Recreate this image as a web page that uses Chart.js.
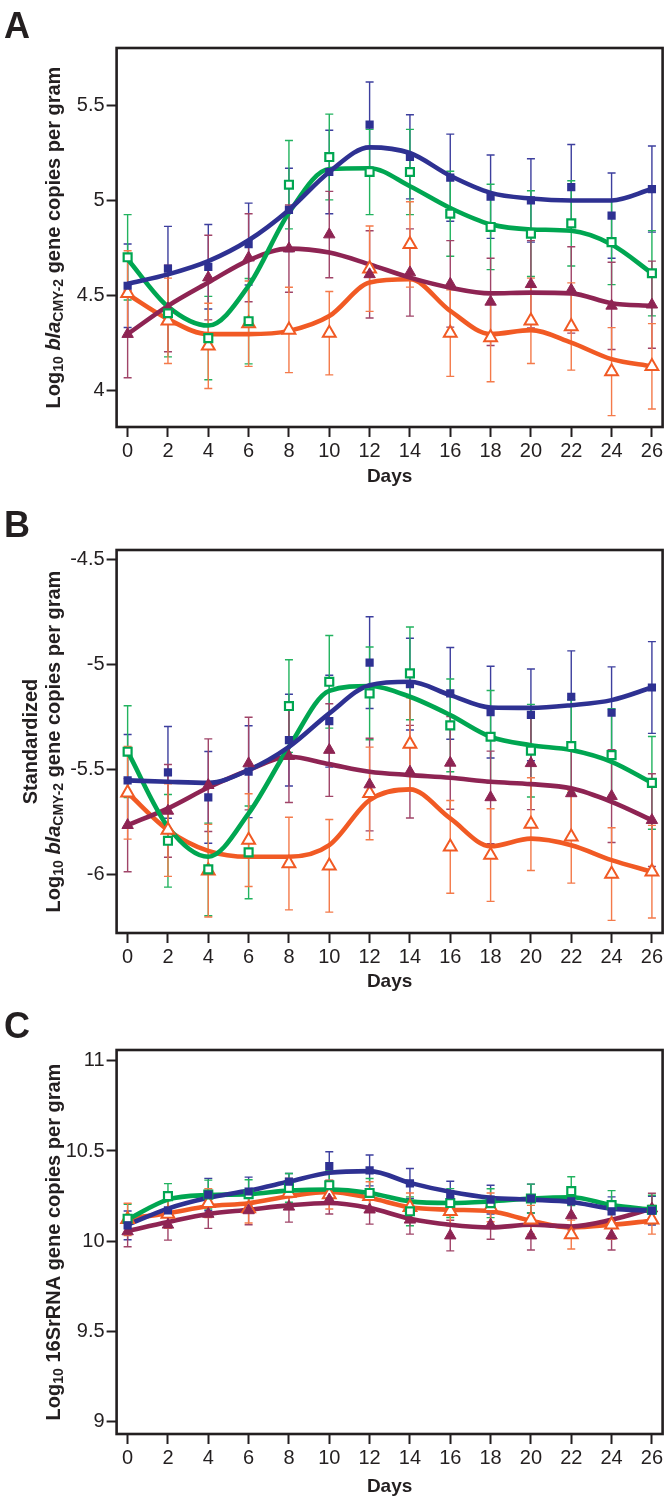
<!DOCTYPE html>
<html>
<head>
<meta charset="utf-8">
<script src="https://cdn.jsdelivr.net/npm/chart.js@4.4.1/dist/chart.umd.min.js"></script>
<style>
  html, body { margin: 0; padding: 0; background: #fff; }
  body { width: 672px; height: 1503px; position: relative; overflow: hidden; }
  canvas { position: absolute; left: 0; }
</style>
</head>
<body>
<canvas id="chartA" width="672" height="492" style="top:0px"></canvas>
<canvas id="chartB" width="672" height="500" style="top:492px"></canvas>
<canvas id="chartC" width="672" height="511" style="top:992px"></canvas>
<script>
// sampling days and axis ticks
const days = [0, 2, 4, 6, 8, 10, 12, 14, 16, 18, 20, 22, 24, 26];
const dayTicks = [0, 2, 4, 6, 8, 10, 12, 14, 16, 18, 20, 22, 24, 26];
const yTicksA = [4, 4.5, 5, 5.5];
const yTicksB = [-6, -5.5, -5, -4.5];
const yTicksC = [9, 9.5, 10, 10.5, 11];

// Panel A - log10 blaCMY-2 per gram
const aBlue      = [4.55, 4.64, 4.65, 4.77, 4.95, 5.15, 5.40, 5.23, 5.12, 5.02, 5.00, 5.07, 4.92, 5.06];
const aBlueFit   = [4.56, 4.61, 4.68, 4.79, 4.95, 5.15, 5.28, 5.25, 5.13, 5.04, 5.01, 5.00, 5.00, 5.06];
const aBlueErr   = [0.22, 0.223, 0.223, 0.216, 0.22, 0.22, 0.225, 0.222, 0.23, 0.22, 0.22, 0.225, 0.225, 0.227];
const aGreen     = [4.70, 4.405, 4.274, 4.363, 5.083, 5.229, 5.15, 5.15, 4.93, 4.86, 4.825, 4.879, 4.78, 4.616];
const aGreenFit  = [4.69, 4.44, 4.34, 4.55, 4.935, 5.166, 5.17, 5.075, 4.96, 4.874, 4.847, 4.84, 4.768, 4.616];
const aGreenErr  = [0.225, 0.23, 0.22, 0.225, 0.233, 0.226, 0.225, 0.225, 0.224, 0.225, 0.226, 0.225, 0.224, 0.225];
const aMaroon    = [4.295, 4.43, 4.593, 4.698, 4.746, 4.82, 4.61, 4.62, 4.56, 4.465, 4.558, 4.528, 4.444, 4.45];
const aMaroonFit = [4.295, 4.444, 4.567, 4.684, 4.746, 4.725, 4.663, 4.593, 4.54, 4.51, 4.514, 4.51, 4.458, 4.444];
const aMaroonErr = [0.23, 0.228, 0.223, 0.232, 0.23, 0.228, 0.23, 0.23, 0.228, 0.23, 0.23, 0.228, 0.23, 0.23];
const aOrange    = [4.51, 4.365, 4.233, 4.35, 4.317, 4.30, 4.64, 4.768, 4.30, 4.277, 4.365, 4.335, 4.097, 4.125];
const aOrangeFit = [4.505, 4.374, 4.295, 4.295, 4.312, 4.39, 4.567, 4.584, 4.417, 4.295, 4.316, 4.25, 4.163, 4.125];
const aOrangeErr = [0.225, 0.225, 0.225, 0.225, 0.225, 0.22, 0.225, 0.225, 0.228, 0.233, 0.225, 0.23, 0.232, 0.225];

// Panel B - standardized
const bBlue      = [-5.551, -5.513, -5.632, -5.51, -5.36, -5.27, -4.992, -5.094, -5.138, -5.227, -5.24, -5.154, -5.23, -5.11];
const bBlueFit   = [-5.551, -5.558, -5.563, -5.502, -5.392, -5.233, -5.099, -5.083, -5.146, -5.205, -5.207, -5.194, -5.17, -5.11];
const bBlueErr   = [0.218, 0.218, 0.218, 0.218, 0.218, 0.218, 0.218, 0.218, 0.218, 0.218, 0.218, 0.218, 0.218, 0.218];
const bGreen     = [-5.415, -5.838, -5.974, -5.893, -5.198, -5.083, -5.138, -5.043, -5.29, -5.344, -5.41, -5.388, -5.431, -5.563];
const bGreenFit  = [-5.415, -5.772, -5.914, -5.708, -5.392, -5.126, -5.103, -5.154, -5.241, -5.344, -5.384, -5.407, -5.463, -5.563];
const bGreenErr  = [0.218, 0.22, 0.22, 0.22, 0.22, 0.22, 0.22, 0.22, 0.22, 0.22, 0.22, 0.22, 0.22, 0.22];
const bMaroon    = [-5.764, -5.696, -5.574, -5.471, -5.436, -5.407, -5.571, -5.51, -5.468, -5.632, -5.47, -5.613, -5.626, -5.74];
const bMaroonFit = [-5.764, -5.684, -5.585, -5.502, -5.439, -5.474, -5.51, -5.526, -5.539, -5.558, -5.569, -5.589, -5.653, -5.74];
const bMaroonErr = [0.221, 0.22, 0.22, 0.22, 0.22, 0.22, 0.22, 0.22, 0.22, 0.22, 0.22, 0.22, 0.22, 0.22];
const bOrange    = [-5.61, -5.787, -5.98, -5.835, -5.946, -5.957, -5.613, -5.379, -5.867, -5.906, -5.759, -5.819, -5.996, -5.985];
const bOrangeFit = [-5.61, -5.787, -5.886, -5.914, -5.914, -5.859, -5.645, -5.594, -5.732, -5.864, -5.828, -5.859, -5.93, -5.985];
const bOrangeErr = [0.22, 0.22, 0.22, 0.22, 0.22, 0.22, 0.22, 0.22, 0.22, 0.22, 0.22, 0.22, 0.22, 0.22];

// Panel C - log10 16S rRNA per gram
const cBlue      = [10.087, 10.17, 10.258, 10.275, 10.33, 10.416, 10.392, 10.32, 10.258, 10.23, 10.236, 10.22, 10.165, 10.169];
const cBlueFit   = [10.09, 10.18, 10.24, 10.28, 10.33, 10.379, 10.388, 10.323, 10.273, 10.24, 10.23, 10.217, 10.18, 10.169];
const cBlueErr   = [0.08, 0.08, 0.09, 0.08, 0.045, 0.08, 0.086, 0.083, 0.074, 0.08, 0.08, 0.08, 0.08, 0.08];
const cGreen     = [10.124, 10.249, 10.258, 10.26, 10.295, 10.31, 10.267, 10.165, 10.211, 10.21, 10.236, 10.277, 10.20, 10.174];
const cGreenFit  = [10.12, 10.23, 10.255, 10.26, 10.28, 10.286, 10.267, 10.22, 10.211, 10.22, 10.236, 10.243, 10.20, 10.174];
const cGreenErr  = [0.08, 0.07, 0.08, 0.08, 0.08, 0.08, 0.08, 0.08, 0.08, 0.08, 0.08, 0.08, 0.08, 0.08];
const cMaroon    = [10.053, 10.09, 10.15, 10.17, 10.19, 10.23, 10.174, 10.118, 10.03, 10.09, 10.03, 10.142, 10.03, 10.18];
const cMaroonFit = [10.055, 10.105, 10.15, 10.174, 10.198, 10.211, 10.183, 10.124, 10.09, 10.075, 10.09, 10.081, 10.118, 10.18];
const cMaroonErr = [0.085, 0.085, 0.08, 0.08, 0.085, 0.08, 0.08, 0.08, 0.085, 0.08, 0.08, 0.08, 0.08, 0.085];
const cOrange    = [10.12, 10.15, 10.21, 10.18, 10.267, 10.258, 10.249, 10.187, 10.165, 10.187, 10.118, 10.036, 10.09, 10.118];
const cOrangeFit = [10.124, 10.155, 10.193, 10.21, 10.249, 10.273, 10.24, 10.187, 10.174, 10.165, 10.113, 10.075, 10.09, 10.113];
const cOrangeErr = [0.09, 0.08, 0.08, 0.08, 0.08, 0.08, 0.08, 0.08, 0.08, 0.08, 0.08, 0.08, 0.08, 0.08];

const INK = '#231f20';
const FONT = '"Liberation Sans", Arial, Helvetica, sans-serif';
const STYLE = {
  blue:   { line: '#2e3192', bar: '#3d3f9e', fill: '#2e3192', shape: 'rect', r: 5.8, bw: 0 },
  green:  { line: '#00a651', bar: '#22b35f', fill: '#ffffff', shape: 'rect', r: 5.6, bw: 2.2 },
  maroon: { line: '#8e2453', bar: '#a04468', fill: '#8e2453', shape: 'triangle', r: 6.6, bw: 1 },
  orange: { line: '#f15a24', bar: '#f47a4a', fill: '#ffffff', shape: 'triangle', r: 7.4, bw: 2 }
};

function richParts(second) {
  const big = 'bold 20px ' + FONT, small = 'bold 14px ' + FONT;
  return [
    { text: 'Log', font: big },
    { text: '10', font: small, dy: 3 },
    { text: ' ', font: big },
    ...second(big, small)
  ];
}
const blaTitle = richParts((big, small) => [
  { text: 'bla', font: 'italic bold 20px ' + FONT },
  { text: 'CMY-2', font: small, dy: 3 },
  { text: ' gene copies per gram', font: big }
]);
const rnaTitle = richParts(big => [{ text: '16SrRNA gene copies per gram', font: big }]);

function drawRotated(ctx, parts, baseX, centerY) {
  let total = 0;
  parts.forEach(p => { ctx.font = p.font; p.w = ctx.measureText(p.text).width; total += p.w; });
  ctx.save();
  ctx.translate(baseX, centerY);
  ctx.rotate(-Math.PI / 2);
  ctx.fillStyle = INK;
  ctx.textAlign = 'left';
  ctx.textBaseline = 'alphabetic';
  let x = -total / 2;
  parts.forEach(p => { ctx.font = p.font; ctx.fillText(p.text, x, p.dy || 0); x += p.w; });
  ctx.restore();
}

const decor = {
  id: 'decor',
  beforeDatasetsDraw(chart) {
    // error bars go under the fitted lines
    const { ctx, scales: { x, y } } = chart;
    ctx.save();
    chart.data.datasets.forEach(ds => {
      if (!ds.err) return;
      ctx.strokeStyle = ds.barColor;
      ctx.lineWidth = 1.4;
      ds.data.forEach((p, i) => {
        const px = x.getPixelForValue(p.x);
        const top = y.getPixelForValue(p.y + ds.err[i]);
        const bot = y.getPixelForValue(p.y - ds.err[i]);
        ctx.beginPath();
        ctx.moveTo(px, top); ctx.lineTo(px, bot);
        ctx.moveTo(px - 4, top); ctx.lineTo(px + 4, top);
        ctx.moveTo(px - 4, bot); ctx.lineTo(px + 4, bot);
        ctx.stroke();
      });
    });
    ctx.restore();
  },
  afterDraw(chart) {
    const o = chart.options.plugins.decor;
    const { ctx, chartArea: a } = chart;
    ctx.save();
    ctx.strokeStyle = INK;
    ctx.lineWidth = 2.6;
    ctx.strokeRect(a.left, a.top, a.right - a.left, a.bottom - a.top);
    ctx.fillStyle = INK;
    ctx.font = 'bold 36px ' + FONT;
    ctx.textAlign = 'left';
    ctx.textBaseline = 'alphabetic';
    ctx.fillText(o.letter, 4, o.letterY);
    ctx.font = 'bold 19px ' + FONT;
    ctx.textAlign = 'center';
    ctx.textBaseline = 'middle';
    ctx.fillText('Days', (a.left + a.right) / 2, a.bottom + o.daysGap);
    const cy = (a.top + a.bottom) / 2;
    if (o.line1) drawRotated(ctx, [{ text: o.line1, font: 'bold 20px ' + FONT }], 37, cy);
    drawRotated(ctx, o.title, 60, cy);
    ctx.restore();
  }
};

function makePanel(id, p) {
  const lines = p.series.map(s => ({
    type: 'line',
    data: days.map((d, i) => ({ x: d, y: s.fit[i] })),
    borderColor: STYLE[s.key].line,
    borderWidth: 4.6,
    pointRadius: 0,
    cubicInterpolationMode: 'monotone',
    fill: false,
    order: 2
  }));
  const marks = p.series.map(s => {
    const st = STYLE[s.key];
    return {
      type: 'scatter',
      data: days.map((d, i) => ({ x: d, y: s.pts[i] })),
      err: s.err,
      barColor: st.bar,
      pointStyle: st.shape,
      pointRadius: st.r,
      backgroundColor: st.fill,
      borderColor: st.line,
      borderWidth: st.bw,
      order: 1
    };
  });
  const tickGrid = { drawOnChartArea: false, drawTicks: true, tickLength: 10, tickWidth: 2, tickColor: INK };
  new Chart(document.getElementById(id), {
    data: { datasets: lines.concat(marks) },
    options: {
      responsive: false,
      animation: false,
      layout: { padding: { top: p.padTop, right: 6.4, left: 0, bottom: 0 } },
      plugins: {
        legend: { display: false },
        tooltip: { enabled: false },
        decor: p.decor
      },
      scales: {
        x: {
          type: 'linear', min: -0.547, max: 26.53,
          afterBuildTicks: s => { s.ticks = dayTicks.map(v => ({ value: v })); },
          afterFit: s => { s.height = p.xAxisH; },
          grid: tickGrid,
          border: { display: false },
          ticks: { color: INK, font: { family: FONT, size: 20 }, padding: 2, maxRotation: 0, autoSkip: false }
        },
        y: {
          type: 'linear', min: p.yMin, max: p.yMax,
          afterBuildTicks: s => { s.ticks = p.yTicks.map(v => ({ value: v })); },
          afterFit: s => { s.width = 116.6; },
          grid: tickGrid,
          border: { display: false },
          ticks: { color: INK, font: { family: FONT, size: 20 }, padding: 2, callback: v => String(v) }
        }
      }
    },
    plugins: [decor]
  });
}

makePanel('chartA', {
  padTop: 48, xAxisH: 65, yMin: 3.805, yMax: 5.804, yTicks: yTicksA,
  decor: { letter: 'A', letterY: 38, daysGap: 50, title: blaTitle },
  series: [
    { key: 'blue', pts: aBlue, fit: aBlueFit, err: aBlueErr },
    { key: 'green', pts: aGreen, fit: aGreenFit, err: aGreenErr },
    { key: 'maroon', pts: aMaroon, fit: aMaroonFit, err: aMaroonErr },
    { key: 'orange', pts: aOrange, fit: aOrangeFit, err: aOrangeErr }
  ]
});
makePanel('chartB', {
  padTop: 58, xAxisH: 59, yMin: -6.276, yMax: -4.457, yTicks: yTicksB,
  decor: { letter: 'B', letterY: 45, daysGap: 49, title: blaTitle, line1: 'Standardized' },
  series: [
    { key: 'blue', pts: bBlue, fit: bBlueFit, err: bBlueErr },
    { key: 'green', pts: bGreen, fit: bGreenFit, err: bGreenErr },
    { key: 'maroon', pts: bMaroon, fit: bMaroonFit, err: bMaroonErr },
    { key: 'orange', pts: bOrange, fit: bOrangeFit, err: bOrangeErr }
  ]
});
makePanel('chartC', {
  padTop: 58, xAxisH: 69, yMin: 8.928, yMax: 11.061, yTicks: yTicksC,
  decor: { letter: 'C', letterY: 46, daysGap: 53, title: rnaTitle },
  series: [
    { key: 'blue', pts: cBlue, fit: cBlueFit, err: cBlueErr },
    { key: 'green', pts: cGreen, fit: cGreenFit, err: cGreenErr },
    { key: 'maroon', pts: cMaroon, fit: cMaroonFit, err: cMaroonErr },
    { key: 'orange', pts: cOrange, fit: cOrangeFit, err: cOrangeErr }
  ]
});
</script>
</body>
</html>
